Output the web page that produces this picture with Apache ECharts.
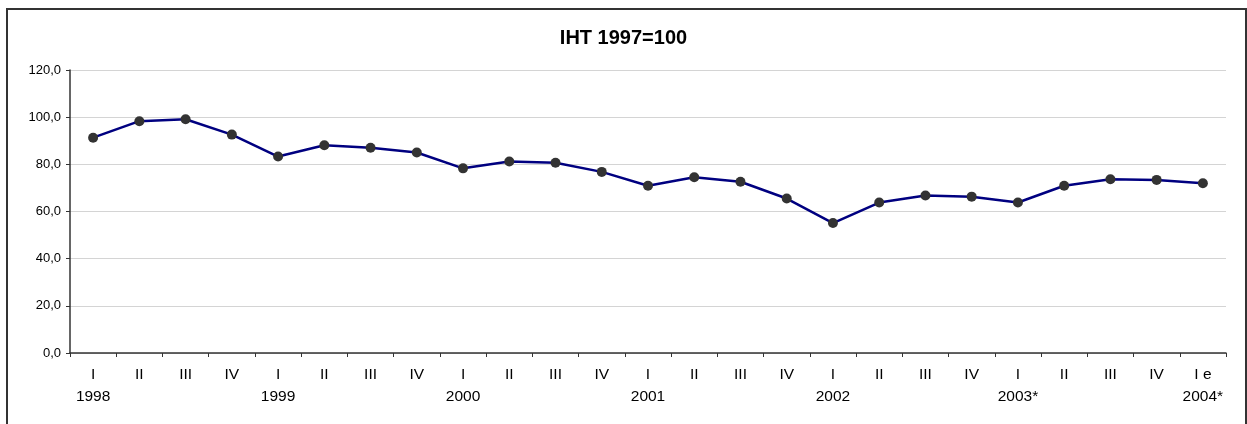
<!DOCTYPE html>
<html>
<head>
<meta charset="utf-8">
<title>IHT 1997=100</title>
<script src="https://cdn.jsdelivr.net/npm/echarts@6/dist/echarts.min.js"></script>
<style>
  html, body { margin: 0; padding: 0; background: #fff; overflow: hidden; }
  #frame {
    position: absolute; left: 6px; top: 8px; width: 1241px; height: 440px;
    border: 2px solid #333; box-sizing: border-box;
  }
  #chart { position: absolute; left: 0; top: 0; width: 1247px; height: 424px; }
</style>
</head>
<body>
<div id="frame"></div>
<div id="chart"></div>
<script>
// quarters 1998 I .. 2004 I
var quarters = ['I', 'II', 'III', 'IV', 'I', 'II', 'III', 'IV', 'I', 'II', 'III', 'IV',
  'I', 'II', 'III', 'IV', 'I', 'II', 'III', 'IV', 'I', 'II', 'III', 'IV', 'I e']
var years = ['1998', '', '', '', '1999', '', '', '', '2000', '', '', '', '2001', '', '', '',
  '2002', '', '', '', '2003*', '', '', '', '2004*']
var iht = [91.3, 98.3, 99.1, 92.6, 83.3, 88.1, 87.0, 85.0, 78.3, 81.2, 80.7, 76.8,
  70.9, 74.5, 72.6, 65.5, 55.1, 63.8, 66.8, 66.3, 63.8, 70.9, 73.7, 73.4, 72.0]
var yTicks = { min: 0, max: 120, interval: 20 }

var categories = quarters.map(function (q, i) {
  return years[i] ? q + '\n' + years[i] : q
})

var chart = echarts.init(document.getElementById('chart'), null, { renderer: 'canvas' })
chart.setOption({
  animation: false,
  backgroundColor: 'transparent',
  textStyle: { fontFamily: 'Liberation Sans, Arial, sans-serif' },
  title: {
    text: 'IHT 1997=100',
    left: 'center',
    top: 23,
    textStyle: { fontSize: 20, fontWeight: 'bold', color: '#000', fontFamily: 'Liberation Sans, Arial, sans-serif' }
  },
  grid: { left: 70, right: 21, top: 70, bottom: 71, containLabel: false },
  xAxis: {
    type: 'category',
    data: categories,
    boundaryGap: true,
    axisLine: { lineStyle: { color: '#333', width: 1.5 } },
    axisTick: { show: true, length: 4, lineStyle: { color: '#333' } },
    axisLabel: {
      interval: 0,
      margin: 11,
      fontSize: 15.5,
      lineHeight: 22,
      color: '#000',
      verticalAlign: 'top'
    },
    splitLine: { show: false }
  },
  yAxis: {
    type: 'value',
    min: yTicks.min,
    max: yTicks.max,
    interval: yTicks.interval,
    axisLine: { show: true, lineStyle: { color: '#333', width: 1.5 } },
    axisTick: { show: true, length: 4, lineStyle: { color: '#333' } },
    axisLabel: {
      margin: 9,
      fontSize: 13,
      color: '#000',
      formatter: function (v) { return v.toFixed(1).replace('.', ',') }
    },
    splitLine: { show: true, lineStyle: { color: '#d4d4d4', width: 1 } }
  },
  series: [{
    name: 'IHT',
    type: 'line',
    data: iht,
    symbol: 'circle',
    symbolSize: 10,
    itemStyle: { color: '#333' },
    lineStyle: { color: '#000080', width: 2.5 },
    z: 3
  }]
})
</script>
</body>
</html>
